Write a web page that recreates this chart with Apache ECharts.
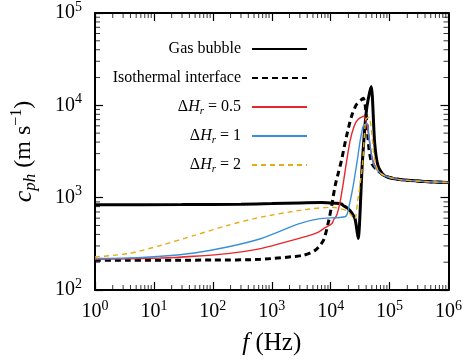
<!DOCTYPE html>
<html>
<head>
<meta charset="utf-8">
<script src="https://cdn.jsdelivr.net/npm/echarts@6/dist/echarts.min.js"></script>
<style>html,body{margin:0;padding:0;background:#fff}#c{width:465px;height:361px}</style>
</head>
<body>
<div id="c"></div>
<script>
// ---- data (frequency Hz, phase speed m/s) ----
const gasBubble = [[1,840],[30,842],[300,850],[1000,862],[3000,878],[7000,885],[12000,870],[15300,855],[16400,820],[19000,775],[21200,724],[23500,665],[25800,594],[27400,479],[29300,362],[34600,2500],[40700,9060],[48700,16000],[55800,3930],[63700,2210],[82000,1730],[138000,1580],[390000,1496],[1000000,1462]];
const isothermal = [[1,210],[100,211],[645,215],[3460,238],[5460,269],[7530,345],[9140,542],[10400,820],[11900,1345],[13500,1860],[15200,2500],[17100,3620],[18600,4650],[22600,7620],[27400,10200],[33300,11500],[35900,11900],[38400,10200],[41500,5940],[44800,3370],[50400,2320],[63700,1950],[82000,1730],[138000,1580],[390000,1496],[1000000,1462]];
const dH05 = [[1,215],[13,222],[48,232],[177,248],[645,281],[3460,374],[6200,424],[7920,470],[10400,521],[11300,580],[12600,640],[14400,890],[16100,1345],[18700,2500],[21300,4100],[25000,5940],[29300,7060],[36500,7620],[41500,5940],[46700,3620],[52400,2500],[63700,1950],[82000,1730],[138000,1580],[390000,1496],[1000000,1462]];
const dH1 = [[1,219],[3.64,222],[13.3,232],[48.5,252],[177,292],[645,359],[2850,520],[6200,590],[15300,614],[18600,640],[21200,890],[24100,1345],[28200,2500],[31600,4100],[35500,5940],[38400,6200],[41500,6400],[45800,4100],[50400,2630],[58900,2050],[82000,1730],[138000,1580],[390000,1496],[1000000,1462]];
const dH2 = [[1,228],[3.64,248],[13.3,305],[48.5,390],[177,500],[645,614],[3460,738],[10400,787],[18600,724],[22600,640],[25800,590],[28500,890],[31300,1345],[34600,2210],[39500,7060],[44900,7430],[50400,4650],[54500,2830],[63700,1950],[82000,1730],[138000,1580],[390000,1496],[1000000,1462]];
const seriesNames = ['Gas bubble','Isothermal interface','ΔHr = 0.5','ΔHr = 1','ΔHr = 2'];
const xTickRange = [1, 1000000];
const yTickRange = [100, 100000];
const minorMultipliers = [2,3,4,5,6,7,8,9];

const FONT = 'Liberation Serif';
function decadesMinor(lo, hi){
  const out = [];
  for (let d = lo; d < hi; d *= 10) minorMultipliers.forEach(m => out.push(d*m));
  return out;
}
const xMinor = decadesMinor(xTickRange[0], xTickRange[1]);
const yMinor = decadesMinor(yTickRange[0], yTickRange[1]);

const tickRich = {
  b:{fontFamily:FONT,fontSize:20,color:'#000',lineHeight:26},
  s:{fontFamily:FONT,fontSize:14,color:'#000',lineHeight:14,verticalAlign:'top'}
};
function powLabel(v){ return '{b|10}{s|' + Math.round(Math.log10(v)) + '}'; }

const legendRich = {
  n:{fontFamily:FONT,fontSize:16,color:'#000',lineHeight:20},
  i:{fontFamily:FONT,fontSize:16,fontStyle:'italic',color:'#000',lineHeight:20},
  s:{fontFamily:FONT,fontSize:11,fontStyle:'italic',color:'#000',lineHeight:12,verticalAlign:'bottom'},
  g:{width:6,lineHeight:20}
};
function legendFmt(name){
  const m = name.match(/^ΔHr = (.*)$/);
  if (m) return '{n|Δ}{i|H}{s|r}{n| = ' + m[1] + '}{g|}';
  return '{n|' + name + '}{g|}';
}

function minorSeries(data, offset, size){
  return {type:'scatter', data:data, symbol:'rect', symbolSize:size, symbolOffset:offset,
    itemStyle:{color:'#000'}, silent:true, clip:false, z:10, animation:false, tooltip:{show:false}};
}

const chart = echarts.init(document.getElementById('c'), null, {renderer:'canvas'});
const axisCommon = {
  type:'log', logBase:10, interval:1,
  axisLine:{show:true,lineStyle:{color:'#000',width:2}},
  axisTick:{show:true,inside:true,length:8,lineStyle:{color:'#000',width:1.2}},
  splitLine:{show:false}, minorTick:{show:false}
};
chart.setOption({
  animation:false,
  backgroundColor:'#fff',
  grid:{left:95,right:14,top:11,bottom:71,containLabel:false},
  legend:{
    data:seriesNames, orient:'vertical', align:'right', right:157, top:39,
    itemWidth:55, itemHeight:14, itemGap:9, formatter:legendFmt,
    itemStyle:{opacity:0},
    textStyle:{fontFamily:FONT,fontSize:16,color:'#000',lineHeight:20,rich:legendRich},
    padding:0
  },
  xAxis:[
    Object.assign({}, axisCommon, {position:'bottom', min:xTickRange[0], max:xTickRange[1],
      axisLabel:{formatter:powLabel, margin:9, rich:tickRich},
      name:'{i|f}{n| (Hz)}', nameLocation:'middle', nameGap:41,
      nameTextStyle:{rich:{i:{fontFamily:FONT,fontSize:25,fontStyle:'italic',color:'#000'},n:{fontFamily:FONT,fontSize:25,color:'#000'}}}
    }),
    Object.assign({}, axisCommon, {position:'top', min:xTickRange[0], max:xTickRange[1], axisLabel:{show:false}})
  ],
  yAxis:[
    Object.assign({}, axisCommon, {position:'left', min:yTickRange[0], max:yTickRange[1],
      axisLabel:{formatter:powLabel, margin:13, rich:tickRich},
      name:'{i|c}{s|ph}{n| (m s}{p|−1}{n|)}', nameLocation:'middle', nameGap:56, nameRotate:90,
      nameTextStyle:{rich:{
        i:{fontFamily:FONT,fontSize:26,fontStyle:'italic',color:'#000',lineHeight:30},
        s:{fontFamily:FONT,fontSize:17,fontStyle:'italic',color:'#000',lineHeight:17,verticalAlign:'bottom'},
        n:{fontFamily:FONT,fontSize:24,color:'#000',lineHeight:30},
        p:{fontFamily:FONT,fontSize:16,color:'#000',lineHeight:16,verticalAlign:'top'}
      }}
    }),
    Object.assign({}, axisCommon, {position:'right', min:yTickRange[0], max:yTickRange[1], axisLabel:{show:false}})
  ],
  series:[
    {name:seriesNames[0], type:'line', data:gasBubble, showSymbol:false, symbol:'none', smooth:0.25,
      lineStyle:{color:'#000',width:3}, itemStyle:{color:'#000'}, z:3},
    {name:seriesNames[1], type:'line', data:isothermal, showSymbol:false, symbol:'none', smooth:0.25,
      lineStyle:{color:'#000',width:3,type:[6,4]}, itemStyle:{color:'#000'}, z:3},
    {name:seriesNames[2], type:'line', data:dH05, showSymbol:false, symbol:'none', smooth:0.25,
      lineStyle:{color:'#e8262b',width:1.4}, itemStyle:{color:'#e8262b'}, z:4},
    {name:seriesNames[3], type:'line', data:dH1, showSymbol:false, symbol:'none', smooth:0.25,
      lineStyle:{color:'#3b8fd9',width:1.4}, itemStyle:{color:'#3b8fd9'}, z:4},
    {name:seriesNames[4], type:'line', data:dH2, showSymbol:false, symbol:'none', smooth:0.25,
      lineStyle:{color:'#e5ac17',width:1.4,type:[5,4]}, itemStyle:{color:'#e5ac17'}, z:5},
    minorSeries(xMinor.map(v=>[v, yTickRange[0]]), [0,-2.5], [1,5]),
    minorSeries(xMinor.map(v=>[v, yTickRange[1]]), [0,2.5], [1,5]),
    minorSeries(yMinor.map(v=>[xTickRange[0], v]), [2.5,0], [5,1]),
    minorSeries(yMinor.map(v=>[xTickRange[1], v]), [-2.5,0], [5,1])
  ]
});
</script>
</body>
</html>
